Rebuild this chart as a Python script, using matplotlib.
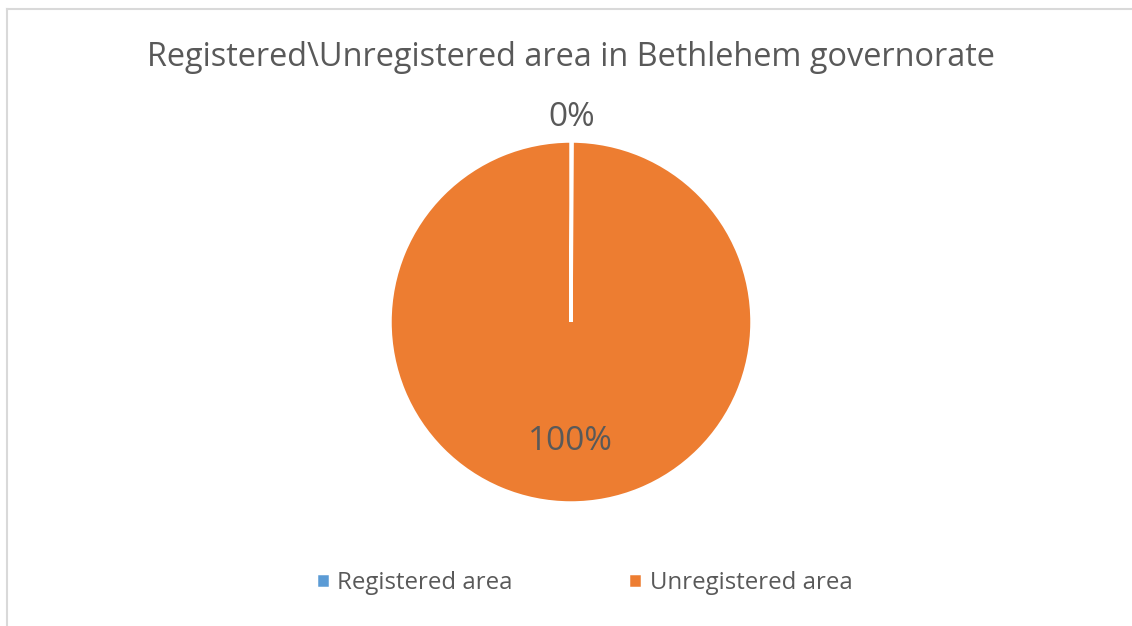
import matplotlib.pyplot as plt
from matplotlib.lines import Line2D

plt.rcParams['font.family'] = ['Open Sans', 'DejaVu Sans']

# данные (доля зарегистрированной площади близка к нулю)
labels = ['Registered area', 'Unregistered area']
values = [0.1, 99.9]
colors = ['#5B9BD5', '#ED7D31']
title = 'Registered\\Unregistered area in Bethlehem governorate'
text_color = '#595959'

W, H = 1132, 626
fig = plt.figure(figsize=(W / 100, H / 100), dpi=100)

# круг: центр (571, 304) от низа, радиус 181 пикселей
cx, cy, r = 571, 304, 181
ax = fig.add_axes([(cx - r) / W, (cy - r) / H, 2 * r / W, 2 * r / H])
wedges, texts, autotexts = ax.pie(values, colors=colors, startangle=90,
                                  counterclock=False, autopct='%1.0f%%',
                                  pctdistance=0.66,
                                  wedgeprops=dict(edgecolor='white', linewidth=2.5),
                                  textprops=dict(color=text_color, fontsize=24))
ax.set_xlim(-1, 1)
ax.set_ylim(-1, 1)
ax.axis('off')

# подпись 0% снаружи, как в Excel
px, py = autotexts[0].get_position()
autotexts[0].set_position((px / 0.66 * 1.13, py / 0.66 * 1.13))

fig.text(cx / W, 1 - 57 / H, title, ha='center', va='center',
         fontsize=23.4, color=text_color)

fig.legend(wedges, labels, loc='center', bbox_to_anchor=(584 / W, 1 - 583 / H),
           ncol=2, frameon=False, fontsize=17.3, labelcolor=text_color,
           handlelength=0.6, handleheight=0.6, handletextpad=0.3,
           columnspacing=4.8)

# рамка области диаграммы
fig.add_artist(Line2D([7 / W, 7 / W], [0, 1 - 9 / H], transform=fig.transFigure,
                      color='#d9d9d9', linewidth=1.5))
fig.add_artist(Line2D([7 / W, 1], [1 - 9 / H, 1 - 9 / H], transform=fig.transFigure,
                      color='#d9d9d9', linewidth=1.5))

fig.savefig('out.png', dpi=100)
